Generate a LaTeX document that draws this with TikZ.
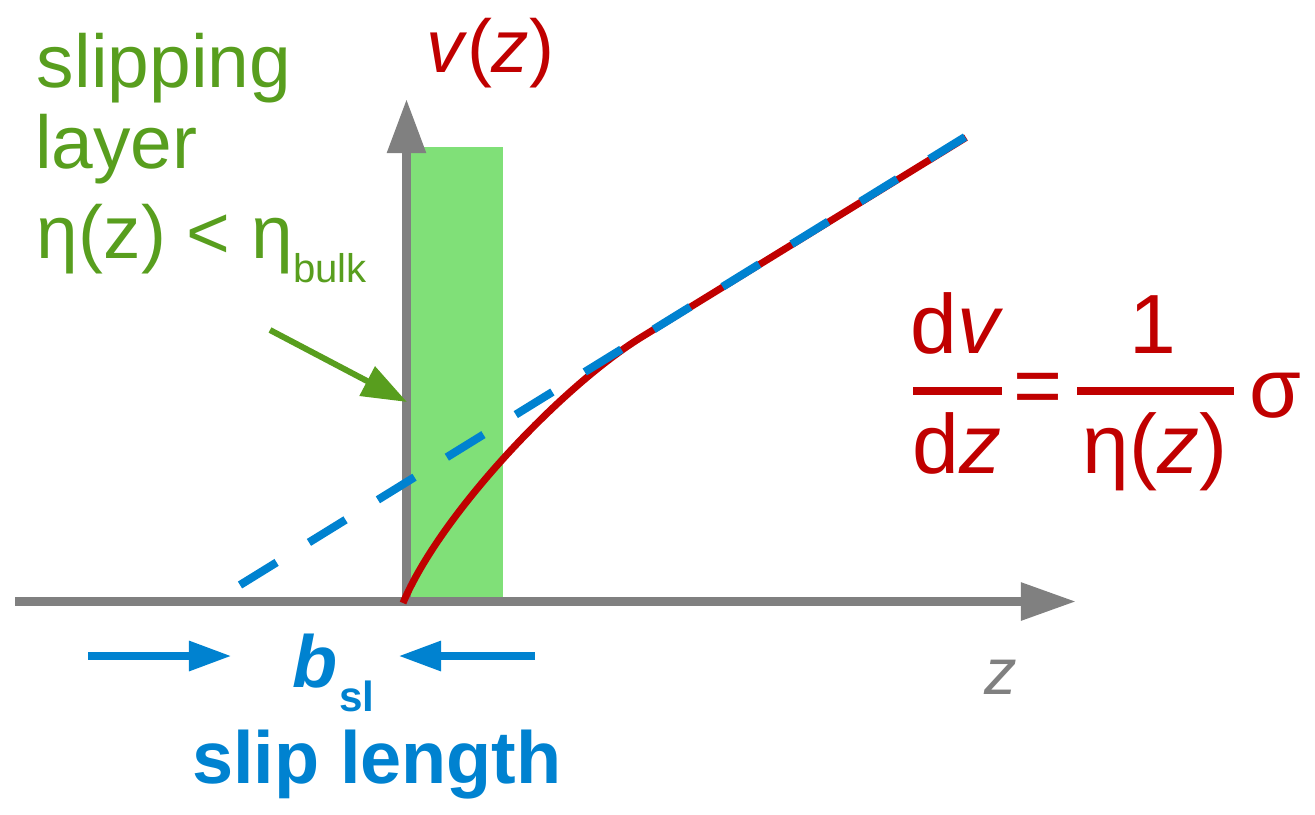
\documentclass[tikz,border=0pt]{standalone}
\usepackage{fontspec}
\setmainfont{Liberation Sans}
\usetikzlibrary{arrows.meta}
\definecolor{axgray}{RGB}{128,128,128}
\definecolor{myred}{RGB}{192,0,0}
\definecolor{myblue}{RGB}{0,130,208}
\definecolor{mygreen}{RGB}{88,158,30}
\definecolor{lgreen}{RGB}{128,224,120}
\newcommand{\fsz}[1]{\fontsize{#1pt}{#1pt}\selectfont}
\tikzset{
  txt/.style={inner sep=0pt, outer sep=0pt},
  axisline/.style={draw=axgray, line width=2.5pt},
  fracbar/.style={draw=myred, line width=2.3pt},
}
\begin{document}
\begin{tikzpicture}[x=0.01cm,y=-0.01cm]
\useasboundingbox (0,0) rectangle (1315,814);
% slipping layer
\fill[lgreen] (406,147) rectangle (503,601);
% axes
\coordinate (O) at (406.5,601.5);
\coordinate (xl) at (15,601.5);
\coordinate (xr) at (1076,601.5);
\coordinate (yt) at (406.5,99);
\draw[axisline, -{Triangle[length=0.55cm,width=0.36cm]}] (xl) -- (xr);
\draw[axisline, -{Triangle[length=0.54cm,width=0.37cm]}] (O) -- (yt);
% velocity profile
\coordinate (r0) at (403,603);
\coordinate (r1) at (640,338);
\coordinate (r2) at (966,137.5);
\draw[myred, line width=2pt] (r0) .. controls (440,515) and (560,388) .. (r1) -- (r2);
% extrapolation
\coordinate (b0) at (240,585);
\coordinate (b1) at (965,137);
\draw[myblue, line width=2.3pt, dash pattern=on 0.43cm off 0.38cm] (b0) -- (b1);
% green arrow
\coordinate (g0) at (270,330);
\coordinate (g1) at (407,402);
\draw[mygreen, line width=1.7pt, -{Triangle[length=0.45cm,width=0.32cm]}] (g0) -- (g1);
% blue arrows
\coordinate (a0) at (88,656);
\coordinate (a1) at (232,656);
\coordinate (c0) at (535,656);
\coordinate (c1) at (398,656);
\draw[myblue, line width=2.5pt, -{Triangle[length=0.43cm,width=0.28cm]}] (a0) -- (a1);
\draw[myblue, line width=2.5pt, -{Triangle[length=0.43cm,width=0.28cm]}] (c0) -- (c1);
% green texts
\node[txt, anchor=base west, text=mygreen] (t1) at (37,87) {\fsz{21.3}slipping};
\node[txt, anchor=base west, text=mygreen] (t2) at (35,168) {\fsz{21.3}layer};
\node[txt, anchor=base west, text=mygreen] (t3) at (37,258) {\fsz{21.3}η(z) < η\raisebox{-0.24cm}{\fsz{11.4}bulk}};
% v(z)
\node[txt, anchor=base west, text=myred] (vz) at (426,72) {\fsz{21.3}\textit{v}(\textit{z})};
% formula
\node[txt, anchor=base, text=myred] (dv) at (957,353) {\fsz{23.9}d\textit{v}};
\node[txt, anchor=base, text=myred] (dz) at (957,473) {\fsz{23.9}d\textit{z}};
\draw[fracbar] (913,391) -- (1002,391);
\node[txt, anchor=base, text=myred] (eq) at (1038,414) {\fsz{23.9}=};
\node[txt, anchor=base, text=myred] (one) at (1153,353) {\fsz{23.9}1};
\node[txt, anchor=base, text=myred] (eta) at (1155,473) {\fsz{23.9}η(\textit{z})};
\draw[fracbar] (1077,391) -- (1234,391);
\node[txt, anchor=base west, text=myred] (sig) at (1249,417) {\fsz{23.9}σ};
% z axis label
\node[txt, anchor=base west, text=axgray] (zl) at (984,694) {\fsz{18.5}\textit{z}};
% slip length
\node[txt, anchor=base west, text=myblue] (b) at (292,687) {\fsz{21}\textbf{\textit{b}}};
\node[txt, anchor=base west, text=myblue] (sl) at (339,711) {\fsz{12}\textbf{sl}};
\node[txt, anchor=base, text=myblue] (slip) at (377,783) {\fsz{21}\textbf{slip length}};
\end{tikzpicture}
\end{document}
